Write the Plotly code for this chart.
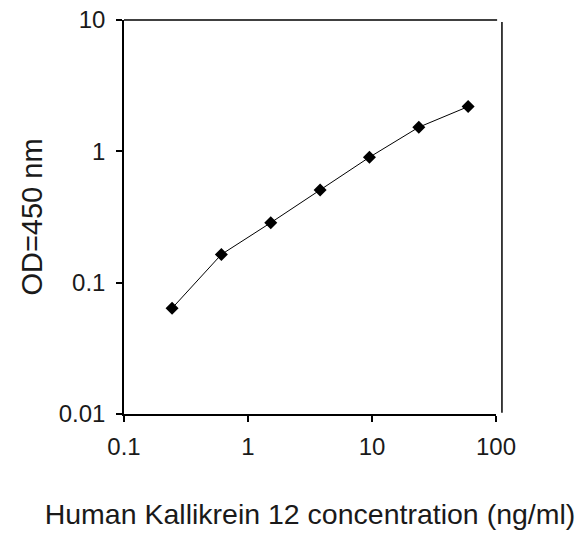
import plotly.graph_objects as go

conc = [0.244, 0.61, 1.526, 3.815, 9.54, 23.84, 59.6]
od = [0.0638, 0.164, 0.286, 0.508, 0.902, 1.527, 2.19]

x_ticks = [0.1, 1, 10, 100]
x_tick_text = ["0.1", "1", "10", "100"]
y_ticks = [0.01, 0.1, 1, 10]
y_tick_text = ["0.01", "0.1", "1", "10"]

font_family = "Liberation Sans, Arial, sans-serif"

fig = go.Figure()
fig.add_trace(go.Scatter(
    x=conc, y=od, mode="lines+markers",
    line=dict(color="black", width=1),
    marker=dict(symbol="diamond", size=10, color="black"),
    showlegend=False,
))

fig.update_layout(
    width=584, height=533,
    margin=dict(l=124, r=88, t=20, b=119),
    paper_bgcolor="white", plot_bgcolor="white",
    font=dict(family=font_family, color="#1a1a1a", size=24),
    xaxis=dict(
        type="log", range=[-1, 2], automargin=False,
        tickvals=x_ticks, ticktext=x_tick_text,
        ticks="outside", ticklen=6, tickwidth=1.5, tickcolor="black",
        showline=True, linecolor="black", linewidth=1.5,
        showgrid=False, zeroline=False,
        tickfont=dict(size=24),
        ticklabelstandoff=4, ticklabeloverflow="allow",
        title=dict(text="Human Kallikrein 12 concentration (ng/ml)",
                   font=dict(size=28.5), standoff=46),
    ),
    yaxis=dict(
        type="log", range=[-2, 1], automargin=False,
        tickvals=y_ticks, ticktext=y_tick_text,
        ticks="outside", ticklen=6, tickwidth=1.5, tickcolor="black",
        showline=True, linecolor="black", linewidth=1.5,
        showgrid=False, zeroline=False,
        tickfont=dict(size=24),
        ticklabelstandoff=6, ticklabeloverflow="allow",
        title=dict(text="OD=450 nm", font=dict(size=29), standoff=8),
    ),
    shapes=[
        dict(type="line", xref="paper", yref="paper", x0=0, x1=1.003, y0=1, y1=1,
             line=dict(color="black", width=1.5)),
        dict(type="line", xref="paper", yref="paper", x0=1.016, x1=1.016, y0=0.003, y1=0.995,
             line=dict(color="black", width=1.5)),
    ],
)

fig.write_html("out.html", config={"displayModeBar": False},
               post_script="document.body.style.margin='0';")
